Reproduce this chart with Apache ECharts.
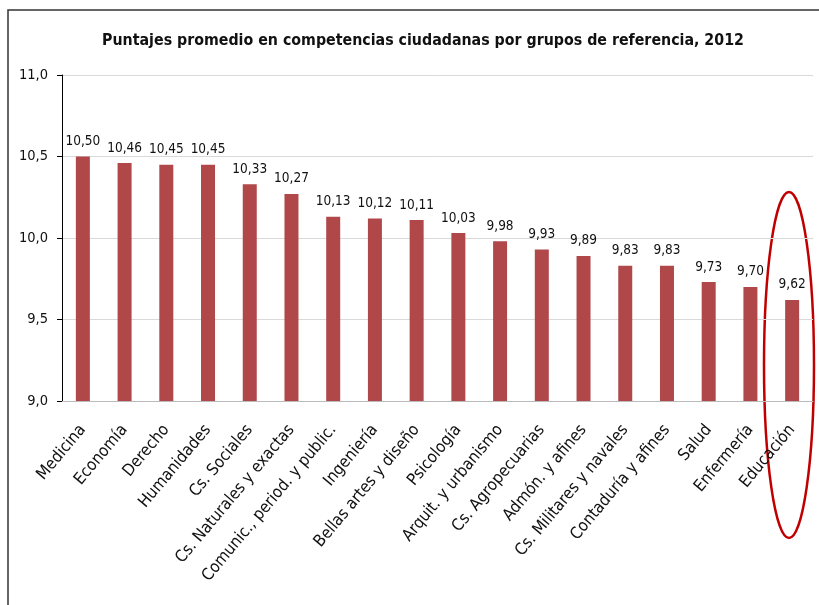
<!DOCTYPE html>
<html><head><meta charset="utf-8">
<script src="https://cdn.jsdelivr.net/npm/echarts@6/dist/echarts.min.js"></script>
<style>html,body{margin:0;padding:0;background:#fff}#c{width:819px;height:605px}</style>
</head><body><div id="c"></div>
<script>
const categories = ["Medicina","Economía","Derecho","Humanidades","Cs. Sociales","Cs. Naturales y exactas","Comunic., period. y public.","Ingeniería","Bellas artes y diseño","Psicología","Arquit. y urbanismo","Cs. Agropecuarias","Admón. y afines","Cs. Militares y navales","Contaduría y afines","Salud","Enfermería","Educación"];
const values = [10.50,10.46,10.45,10.45,10.33,10.27,10.13,10.12,10.11,10.03,9.98,9.93,9.89,9.83,9.83,9.73,9.70,9.62];
const yTicks = [9.0, 9.5, 10.0, 10.5, 11.0];
const titleText = "Puntajes promedio en competencias ciudadanas por grupos de referencia, 2012";

const FONT = "'DejaVu Sans Condensed',sans-serif";
const chart = echarts.init(document.getElementById('c'));
chart.setOption({
  animation:false,
  title:{text:titleText,left:418,top:28,textAlign:'center',
    textStyle:{fontFamily:FONT,fontSize:15.8,fontWeight:'bold',color:'#111'}},
  grid:{left:62,right:6,top:75,bottom:204},
  xAxis:{type:'category',data:categories,
    axisLine:{lineStyle:{color:'#bbb'}},axisTick:{show:false},
    axisLabel:{rotate:50,interval:0,fontFamily:FONT,fontSize:16.5,color:'#111',margin:26}},
  yAxis:{type:'value',min:yTicks[0],max:yTicks[yTicks.length-1],interval:0.5,
    axisLine:{show:true,lineStyle:{color:'#000'}},
    axisTick:{show:true,length:5,lineStyle:{color:'#000'}},
    splitLine:{lineStyle:{color:'#d9d9d9'}},
    axisLabel:{fontFamily:FONT,fontSize:14.5,color:'#111',margin:14,
      formatter:v=>v.toFixed(1).replace('.',',')}},
  series:[{type:'bar',data:values,barWidth:14,
    itemStyle:{color:'#B0484A'},
    label:{show:true,position:'top',distance:8,fontFamily:FONT,fontSize:13.5,color:'#111',
      formatter:p=>p.value.toFixed(2).replace('.',',')}}],
  graphic:[
    {type:'rect',shape:{x:8,y:10,width:830,height:620},style:{fill:null,stroke:'#333',lineWidth:1.5},silent:true},
    {type:'ellipse',shape:{cx:789,cy:365,rx:25,ry:173},style:{fill:null,stroke:'#C00000',lineWidth:2.5},silent:true}
  ]
});
</script></body></html>
